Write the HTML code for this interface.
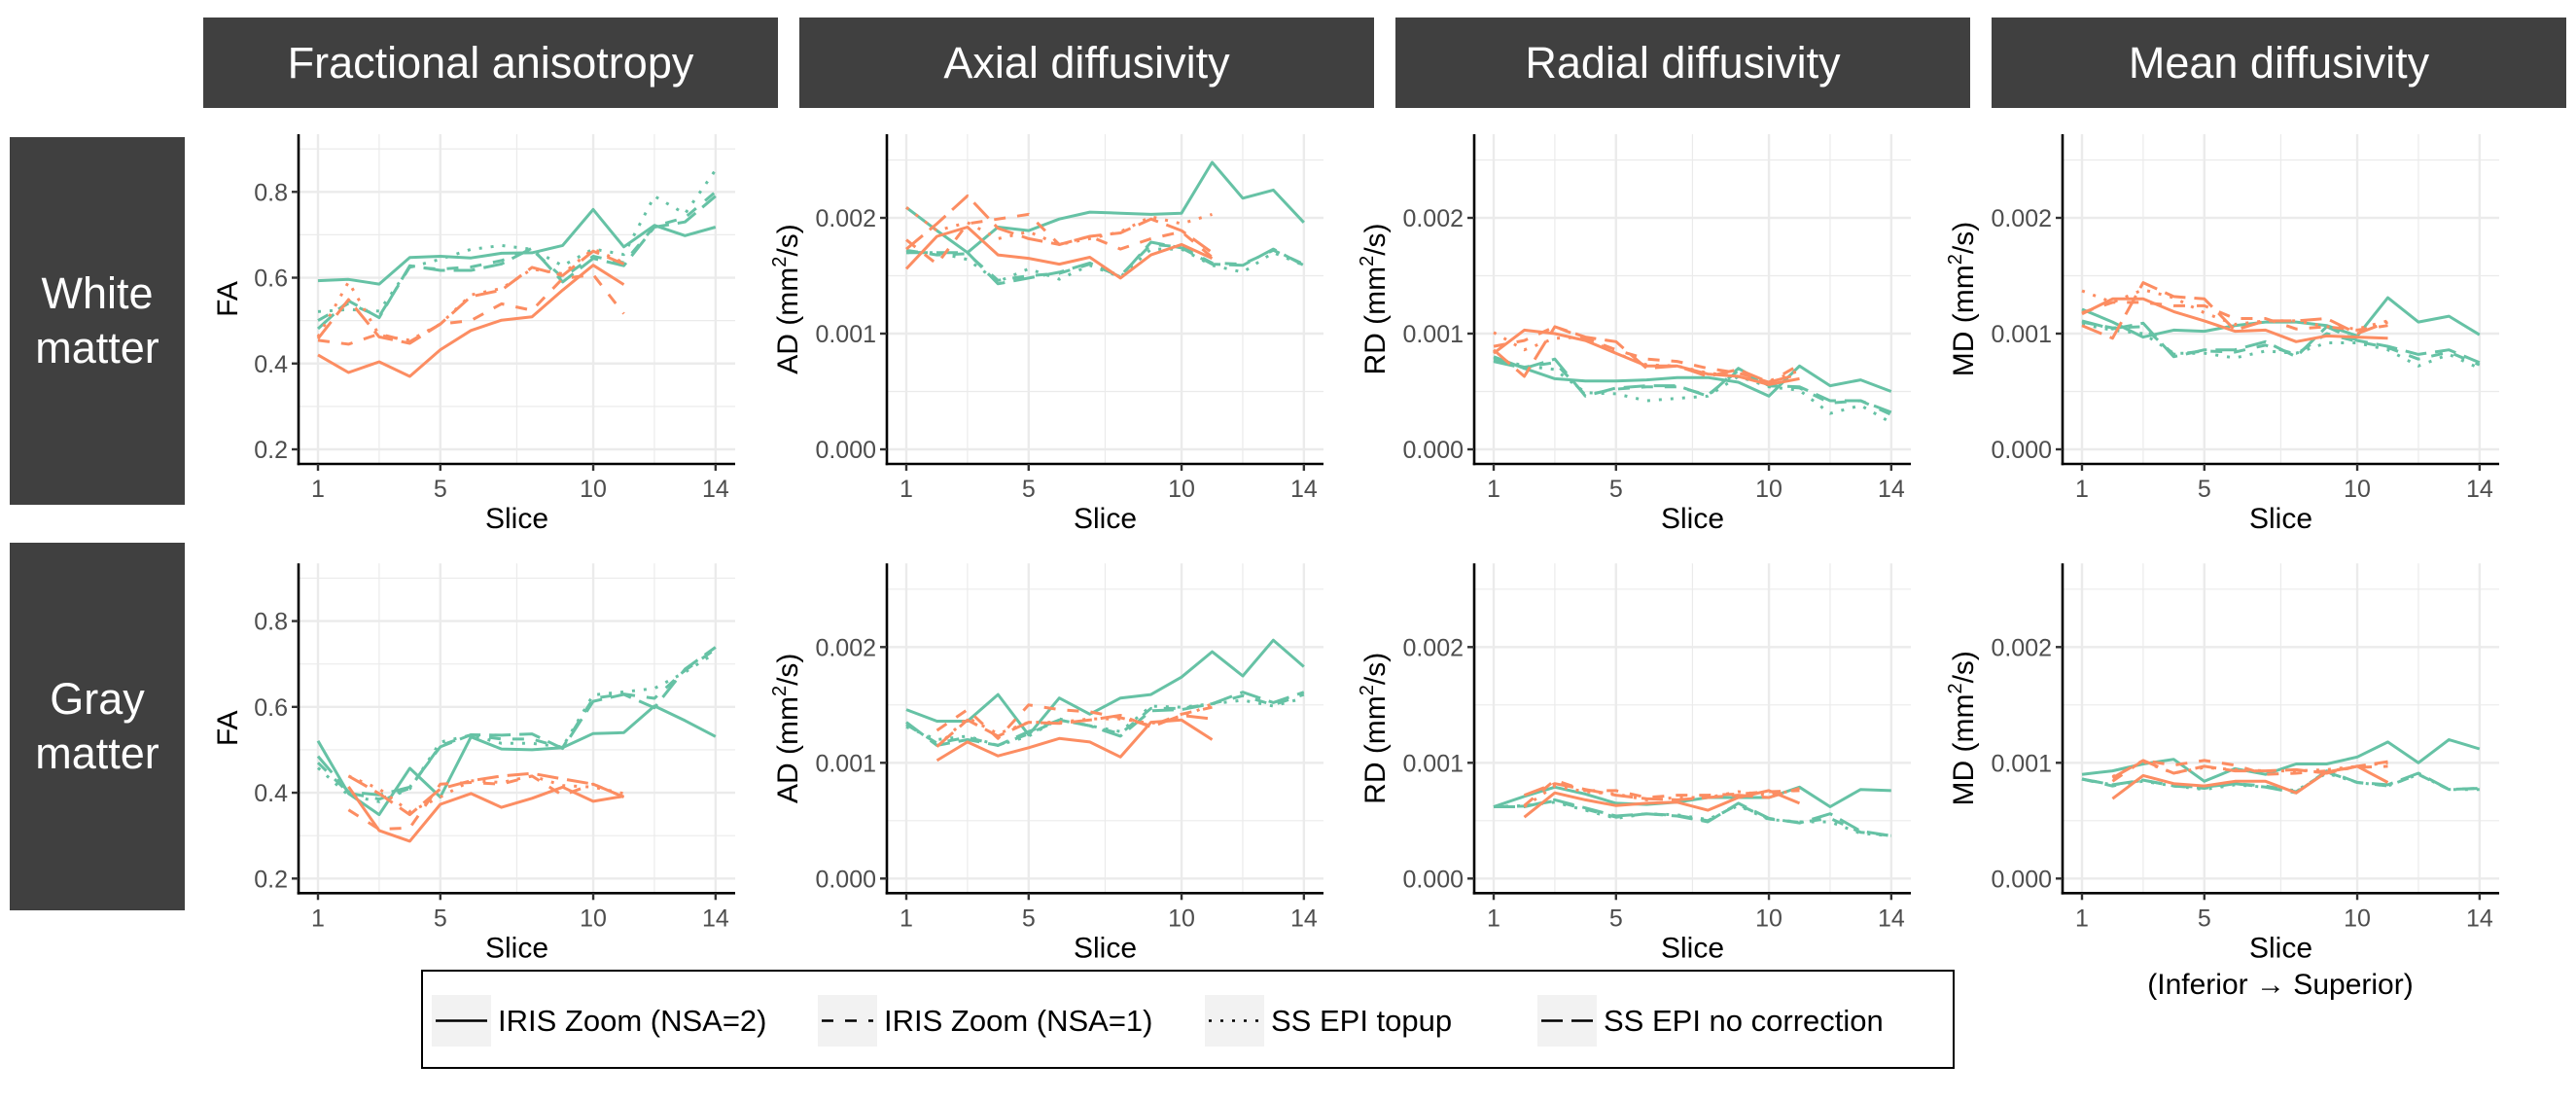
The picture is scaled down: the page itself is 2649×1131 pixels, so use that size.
<!DOCTYPE html>
<html><head><meta charset="utf-8">
<style>
html,body{margin:0;padding:0;background:#fff;}
body{width:2649px;height:1131px;overflow:hidden;position:relative;font-family:"Liberation Sans",Arial,sans-serif;}
.hdr{position:absolute;top:18px;height:93px;width:591px;background:#404040;color:#fff;font-size:45px;display:flex;align-items:center;justify-content:center;}
.row{position:absolute;left:10px;width:180px;height:378px;background:#404040;color:#fff;font-size:45px;display:flex;align-items:center;justify-content:center;text-align:center;line-height:1.25;}
</style></head><body>
<div class="hdr" style="left:209px">Fractional anisotropy</div>
<div class="hdr" style="left:822px">Axial diffusivity</div>
<div class="hdr" style="left:1435px">Radial diffusivity</div>
<div class="hdr" style="left:2048px">Mean diffusivity</div>
<div class="row" style="top:141px">White<br>matter</div>
<div class="row" style="top:558px">Gray<br>matter</div>
<svg id="chart" width="2649" height="1131" style="position:absolute;left:0;top:0"></svg>
<script>
// Slices
const slices = [1,2,3,4,5,6,7,8,9,10,11,12,13,14];
// ---- White matter: FA ----
const faWTS = [.593,.596,.585,.647,.650,.646,.657,.658,.675,.759,.672,.722,.698,.718];
const faWTD = [.50,.54,.51,.625,.62,.625,.64,.665,.60,.65,.635,.72,.74,.80];
const faWTO = [.521,.526,.522,.624,.643,.666,.675,.666,.628,.667,.654,.790,.749,.851];
const faWTL = [.481,.546,.507,.628,.617,.617,.632,.669,.590,.645,.628,.718,.730,.790];
const faWOS = [.420,.379,.404,.370,.432,.477,.501,.509,.571,.629,.584];
const faWOD = [.454,.445,.469,.451,.492,.500,.539,.524,.598,.607,.516];
const faWOO = [.462,.590,.466,.454,.492,.560,.575,.620,.609,.667,.635];
const faWOL = [.458,.549,.462,.447,.492,.556,.571,.624,.605,.662,.632];
// ---- White matter: AD (x1e-3 mm2/s) ----
const adWTS = [2.09,1.89,1.70,1.92,1.89,1.99,2.05,2.04,2.03,2.04,2.48,2.17,2.24,1.96];
const adWTD = [1.72,1.68,1.69,1.46,1.50,1.52,1.60,1.50,1.77,1.75,1.61,1.60,1.72,1.60];
const adWTO = [1.70,1.70,1.64,1.45,1.56,1.47,1.59,1.49,1.73,1.73,1.59,1.53,1.70,1.59];
const adWTL = [1.70,1.70,1.70,1.43,1.48,1.53,1.61,1.49,1.79,1.74,1.60,1.59,1.73,1.59];
const adWOS = [1.56,1.84,1.92,1.68,1.65,1.60,1.66,1.48,1.68,1.77,1.65];
const adWOD = [1.81,1.60,1.95,1.99,2.03,1.77,1.84,1.73,1.82,1.88,1.66];
const adWOO = [2.09,1.89,1.96,1.82,1.88,1.77,1.82,1.88,2.01,1.95,2.03];
const adWOL = [1.73,1.95,2.19,1.91,1.82,1.77,1.84,1.87,1.99,1.89,1.70];
// ---- White matter: RD ----
const rdWTS = [.80,.70,.61,.59,.59,.60,.62,.62,.58,.46,.72,.55,.60,.50];
const rdWTD = [.77,.71,.75,.47,.52,.54,.54,.47,.68,.55,.53,.40,.42,.30];
const rdWTO = [.79,.72,.69,.49,.48,.42,.44,.46,.63,.54,.51,.31,.38,.23];
const rdWTL = [.76,.70,.78,.46,.53,.55,.55,.46,.70,.55,.54,.42,.42,.32];
const rdWOS = [.83,1.03,1.00,.94,.83,.72,.72,.65,.63,.56,.61];
const rdWOD = [.89,.94,1.06,.96,.86,.78,.76,.70,.66,.58,.73];
const rdWOO = [1.01,.86,.96,.97,.83,.73,.72,.66,.63,.59,.68];
const rdWOL = [.86,.63,1.06,.97,.93,.70,.72,.63,.69,.58,.65];
// ---- White matter: MD ----
const mdWTS = [1.21,1.10,.97,1.03,1.02,1.07,1.10,1.10,1.07,.98,1.31,1.10,1.15,.99];
const mdWTD = [1.10,1.05,1.06,.82,.85,.84,.90,.82,1.00,.93,.88,.78,.84,.73];
const mdWTO = [1.08,1.03,1.00,.83,.83,.79,.85,.83,.92,.92,.86,.72,.82,.70];
const mdWTL = [1.11,1.04,1.09,.80,.86,.86,.93,.80,1.06,.94,.89,.82,.86,.75];
const mdWOS = [1.17,1.30,1.30,1.19,1.11,1.02,1.03,.93,.98,.97,.96];
const mdWOD = [1.18,1.27,1.27,1.24,1.24,1.13,1.13,1.04,1.06,1.03,1.07];
const mdWOO = [1.37,1.27,1.38,1.31,1.18,1.08,1.11,1.11,1.06,1.04,1.11];
const mdWOL = [1.07,.96,1.44,1.32,1.30,1.03,1.11,1.11,1.13,1.00,1.10];
// ---- Gray matter: FA ----
const faGTS = [.521,.398,.349,.457,.390,.530,.502,.500,.505,.538,.540,.602,.568,.531];
const faGTD = [.47,.40,.385,.41,.51,.535,.525,.525,.505,.62,.63,.62,.685,.735];
const faGTO = [.458,.394,.379,.409,.518,.534,.515,.515,.507,.628,.635,.643,.681,.726];
const faGTL = [.485,.402,.395,.413,.507,.535,.534,.537,.503,.613,.629,.598,.688,.739];
const faGOS = [null,.414,.312,.287,.373,.398,.366,.387,.413,.380,.392];
const faGOD = [null,.360,.315,.318,.420,.424,.420,.439,.394,.420,.390];
const faGOO = [null,.439,.409,.356,.390,.428,.424,.439,.417,.413,.398];
const faGOL = [null,.439,.398,.349,.409,.428,.439,.445,.432,.420,.390];
// ---- Gray matter: AD ----
const adGTS = [1.46,1.36,1.36,1.59,1.24,1.56,1.42,1.56,1.59,1.74,1.96,1.75,2.06,1.83];
const adGTD = [1.33,1.17,1.22,1.15,1.25,1.37,1.32,1.25,1.47,1.47,1.51,1.58,1.50,1.59];
const adGTO = [1.31,1.20,1.23,1.15,1.23,1.38,1.32,1.27,1.49,1.48,1.51,1.54,1.49,1.56];
const adGTL = [1.35,1.15,1.20,1.15,1.27,1.37,1.32,1.23,1.45,1.46,1.51,1.61,1.52,1.61];
const adGOS = [null,1.02,1.18,1.06,1.13,1.21,1.18,1.05,1.35,1.37,1.20];
const adGOD = [null,1.28,1.46,1.21,1.50,1.46,1.44,1.39,1.32,1.42,1.48];
const adGOO = [null,1.14,1.39,1.25,1.35,1.35,1.38,1.38,1.34,1.39,1.51];
const adGOL = [null,1.14,1.37,1.23,1.35,1.34,1.37,1.41,1.31,1.41,1.38];
// ---- Gray matter: RD ----
const rdGTS = [.62,.71,.79,.73,.65,.64,.66,.70,.70,.70,.79,.62,.77,.76];
const rdGTD = [.62,.625,.67,.60,.53,.56,.545,.50,.64,.515,.485,.52,.40,.37];
const rdGTO = [.62,.63,.66,.59,.52,.56,.55,.51,.63,.51,.49,.49,.39,.37];
const rdGTL = [.62,.62,.68,.61,.54,.56,.54,.49,.65,.52,.48,.56,.41,.37];
const rdGOS = [null,.53,.74,.68,.63,.65,.66,.59,.70,.76,.65];
const rdGOD = [null,.63,.85,.76,.76,.70,.72,.72,.73,.75,.76];
const rdGOO = [null,.62,.80,.75,.73,.68,.70,.70,.75,.72,.77];
const rdGOL = [null,.72,.82,.77,.72,.69,.68,.70,.72,.70,.78];
// ---- Gray matter: MD ----
const mdGTS = [.90,.93,.99,1.03,.84,.95,.90,.99,.99,1.05,1.18,1.00,1.20,1.12];
const mdGTD = [.86,.80,.85,.80,.78,.82,.80,.75,.92,.83,.80,.90,.77,.78];
const mdGTO = [.86,.81,.84,.80,.77,.81,.79,.76,.91,.83,.80,.90,.77,.77];
const mdGTL = [.86,.81,.85,.80,.79,.82,.79,.74,.93,.83,.81,.91,.77,.78];
const mdGOS = [null,.69,.89,.82,.80,.84,.84,.74,.92,.97,.83];
const mdGOD = [null,.84,1.02,.98,1.02,.98,.90,.91,.93,.96,.97];
const mdGOO = [null,.88,1.01,.91,.96,.94,.93,.93,.94,.97,1.00];
const mdGOL = [null,.87,1.02,.91,.97,.93,.93,.94,.91,.97,1.01];
// Tick labels
const xTicks = [1,5,10,14];
const xMinor = [3,7.5,12];
const faTicks = [0.2,0.4,0.6,0.8];
const faMinor = [0.3,0.5,0.7,0.9];
const faTickLabels = ["0.2","0.4","0.6","0.8"];
const dTicks = [0,1,2];
const dMinor = [0.5,1.5,2.5];
const dTickLabels = ["0.000","0.001","0.002"];

const NS = "http://www.w3.org/2000/svg";
const svg = document.getElementById('chart');
const TEAL = "#66C2A5", ORANGE = "#FC8D62";
const DASH = {solid:"", dashed:"12 12", dotted:"3 9", longdash:"22 9"};
const PX1 = [327,932,1536,2141], STEP = 31.45;
const ROWY0 = [462,903.3];
function xs(p,s){return PX1[p]+(s-1)*STEP;}
function ys(r,kind,v){return kind==='fa' ? ROWY0[r]-(v-0.2)*441.2 : ROWY0[r]-v*119;}
function mk(tag,attrs,parent){const e=document.createElementNS(NS,tag);for(const k in attrs)e.setAttribute(k,attrs[k]);(parent||svg).appendChild(e);return e;}

const panels = [
 {p:0,r:0,kind:'fa',name:'fa-white',lab:'FA',series:[faWTS,faWTD,faWTO,faWTL,faWOS,faWOD,faWOO,faWOL]},
 {p:1,r:0,kind:'d',name:'ad-white',lab:'AD',series:[adWTS,adWTD,adWTO,adWTL,adWOS,adWOD,adWOO,adWOL]},
 {p:2,r:0,kind:'d',name:'rd-white',lab:'RD',series:[rdWTS,rdWTD,rdWTO,rdWTL,rdWOS,rdWOD,rdWOO,rdWOL]},
 {p:3,r:0,kind:'d',name:'md-white',lab:'MD',series:[mdWTS,mdWTD,mdWTO,mdWTL,mdWOS,mdWOD,mdWOO,mdWOL]},
 {p:0,r:1,kind:'fa',name:'fa-gray',lab:'FA',series:[faGTS,faGTD,faGTO,faGTL,faGOS,faGOD,faGOO,faGOL]},
 {p:1,r:1,kind:'d',name:'ad-gray',lab:'AD',series:[adGTS,adGTD,adGTO,adGTL,adGOS,adGOD,adGOO,adGOL]},
 {p:2,r:1,kind:'d',name:'rd-gray',lab:'RD',series:[rdGTS,rdGTD,rdGTO,rdGTL,rdGOS,rdGOD,rdGOO,rdGOL]},
 {p:3,r:1,kind:'d',name:'md-gray',lab:'MD',series:[mdGTS,mdGTD,mdGTO,mdGTL,mdGOS,mdGOD,mdGOO,mdGOL]}
];
const styles = [['teal','solid'],['teal','dashed'],['teal','dotted'],['teal','longdash'],['orange','solid'],['orange','dashed'],['orange','dotted'],['orange','longdash']];

panels.forEach(P=>{
  const g = mk('g',{});
  
  
  const ax = PX1[P.p]-20, right = PX1[P.p]+429, top = ROWY0[P.r]-324, bot = ROWY0[P.r]+15;
  const maj = P.kind==='fa'?faTicks:dTicks, mnr = P.kind==='fa'?faMinor:dMinor, labs = P.kind==='fa'?faTickLabels:dTickLabels;
  mnr.forEach(v=>{const y=ys(P.r,P.kind,v); if(y>top) mk('line',{x1:ax,x2:right,y1:y,y2:y,stroke:'#ebebeb','stroke-width':1.2},g);});
  xMinor.forEach(s=>{const x=xs(P.p,s); mk('line',{x1:x,x2:x,y1:top,y2:bot,stroke:'#ebebeb','stroke-width':1.2},g);});
  maj.forEach(v=>{const y=ys(P.r,P.kind,v); mk('line',{x1:ax,x2:right,y1:y,y2:y,stroke:'#ebebeb','stroke-width':2.4},g);});
  xTicks.forEach(s=>{const x=xs(P.p,s); mk('line',{x1:x,x2:x,y1:top,y2:bot,stroke:'#ebebeb','stroke-width':2.4},g);});
  P.series.forEach((arr,i)=>{
    const pts=[]; arr.forEach((v,j)=>{ if(v!==null) pts.push(xs(P.p,slices[j]).toFixed(1)+','+ys(P.r,P.kind,v).toFixed(1)); });
    const pl = mk('polyline',{points:pts.join(' '),fill:'none',stroke:styles[i][0]==='teal'?TEAL:ORANGE,'stroke-width':3,'stroke-dasharray':DASH[styles[i][1]],'stroke-linejoin':'round'},g);
    
    
  });
  mk('line',{x1:ax,x2:ax,y1:top,y2:bot+1.3,stroke:'#000','stroke-width':2.6},g);
  mk('line',{x1:ax-1.3,x2:right,y1:bot,y2:bot,stroke:'#000','stroke-width':2.6},g);
  maj.forEach((v,i)=>{const y=ys(P.r,P.kind,v);
    mk('line',{x1:ax-7,x2:ax,y1:y,y2:y,stroke:'#333','stroke-width':2.4},g);
    const t=mk('text',{x:ax-11,y:y+9,'text-anchor':'end','font-size':25,fill:'#4d4d4d'},g); t.textContent=labs[i];
    
    
  });
  xTicks.forEach(s=>{const x=xs(P.p,s);
    mk('line',{x1:x,x2:x,y1:bot,y2:bot+7,stroke:'#333','stroke-width':2.4},g);
    const t=mk('text',{x:x,y:bot+34,'text-anchor':'middle','font-size':25,fill:'#4d4d4d'},g); t.textContent=s;
    
    
  });
  const xt=mk('text',{x:(ax+right)/2,y:bot+66,'text-anchor':'middle','font-size':30,fill:'#000'},g); xt.textContent='Slice';
  
  
  const cy=(top+bot)/2, tx = P.kind==='fa'? ax-63 : ax-92;
  const yt=mk('text',{x:tx,y:cy,'text-anchor':'middle','font-size':30,fill:'#000',transform:'rotate(-90 '+tx+' '+cy+')'},g);
  
  
  if(P.kind==='fa'){ yt.textContent='FA'; }
  else {
    yt.appendChild(document.createTextNode(P.lab+' (mm'));
    const sp=mk('tspan',{'font-size':20,dy:-12},yt); sp.textContent='2';
    const sp2=mk('tspan',{dy:12},yt); sp2.textContent='/s)';
  }
});
const inf = mk('text',{x:2345,y:1022,'text-anchor':'middle','font-size':30,fill:'#000'});
inf.textContent='(Inferior \u2192 Superior)';



// Legend
const legendLabels = ["IRIS Zoom (NSA=2)","IRIS Zoom (NSA=1)","SS EPI topup","SS EPI no correction"];
const legendTypes = ["solid","dashed","dotted","longdash"];
const lg = mk('g',{});


mk('rect',{x:434,y:998,width:1575,height:100,fill:'#fff',stroke:'#000','stroke-width':2},lg);
const keyX=[444,841,1239,1581];
legendLabels.forEach((lab,i)=>{
  const e=mk('g',{},lg);
  
  
  mk('rect',{x:keyX[i],y:1023,width:61,height:53,fill:'#f2f2f2'},e);
  mk('line',{x1:keyX[i]+4,x2:keyX[i]+57,y1:1049.5,y2:1049.5,stroke:'#000','stroke-width':2.6,'stroke-dasharray':DASH[legendTypes[i]]},e);
  const t=mk('text',{x:keyX[i]+68,y:1060,'font-size':31,fill:'#000'},e); t.textContent=lab;
});
</script>
</body></html>
